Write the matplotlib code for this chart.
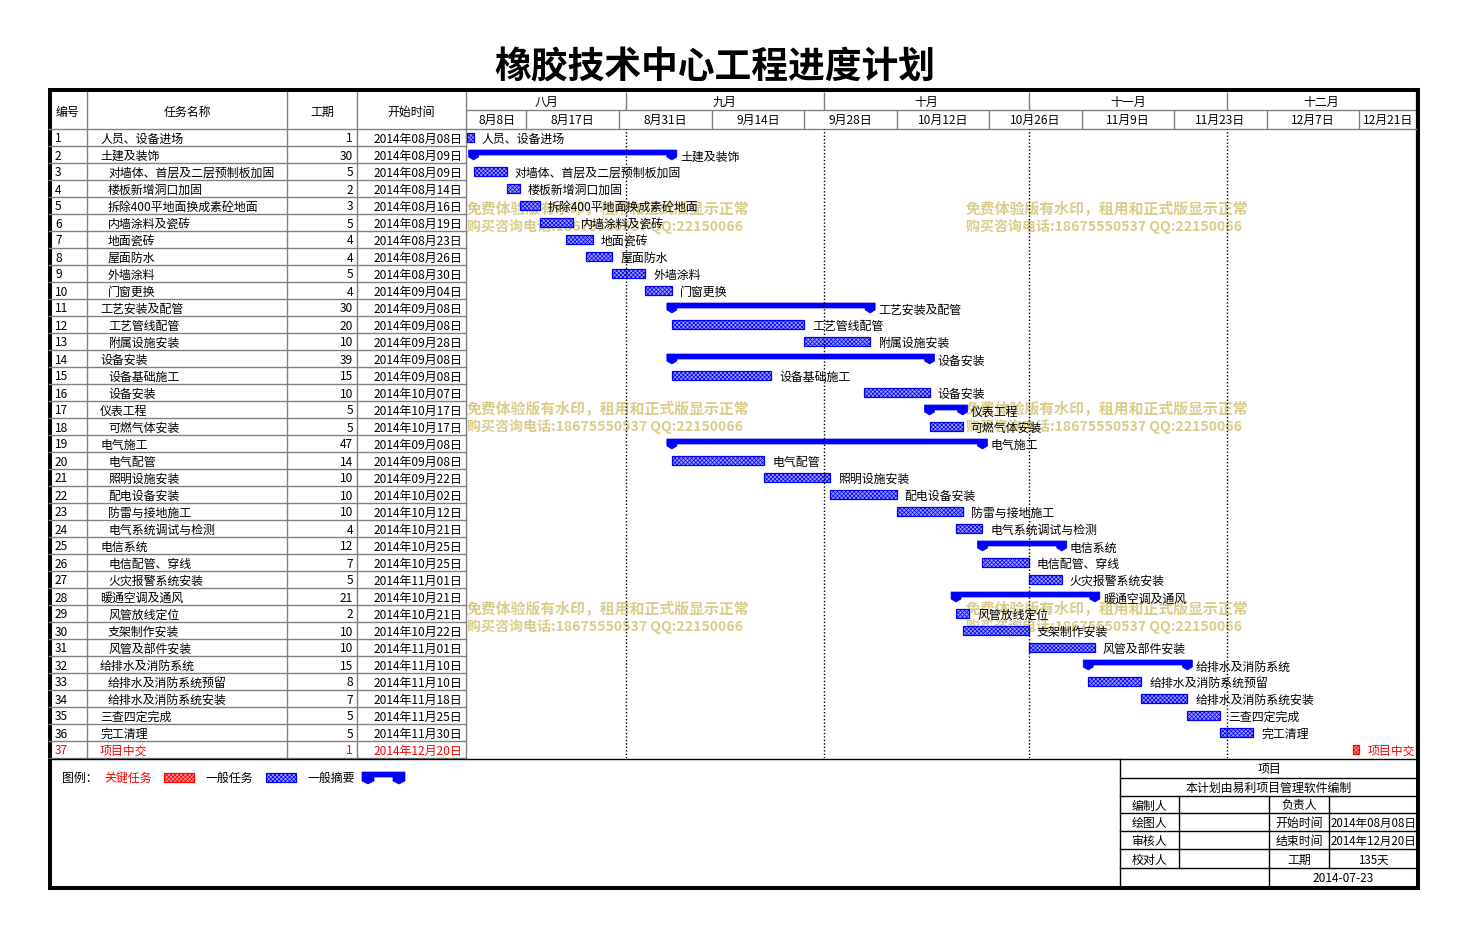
import numpy as np
import matplotlib
matplotlib.use("Agg")
import matplotlib.pyplot as plt
from matplotlib.patches import Rectangle, Polygon

plt.rcParams['font.family'] = ['Noto Sans CJK SC', 'DejaVu Sans']
plt.rcParams['hatch.linewidth'] = 0.5

# ---- data ----
title = "橡胶技术中心工程进度计划"
names = ["人员、设备进场", "土建及装饰", "对墙体、首层及二层预制板加固", "楼板新增洞口加固",
         "拆除400平地面换成素砼地面", "内墙涂料及瓷砖", "地面瓷砖", "屋面防水", "外墙涂料", "门窗更换",
         "工艺安装及配管", "工艺管线配管", "附属设施安装", "设备安装", "设备基础施工", "设备安装",
         "仪表工程", "可燃气体安装", "电气施工", "电气配管", "照明设施安装", "配电设备安装",
         "防雷与接地施工", "电气系统调试与检测", "电信系统", "电信配管、穿线", "火灾报警系统安装",
         "暖通空调及通风", "风管放线定位", "支架制作安装", "风管及部件安装", "给排水及消防系统",
         "给排水及消防系统预留", "给排水及消防系统安装", "三查四定完成", "完工清理", "项目中交"]
durations = [1, 30, 5, 2, 3, 5, 4, 4, 5, 4, 30, 20, 10, 39, 15, 10, 5, 5, 47, 14, 10, 10, 10, 4,
             12, 7, 5, 21, 2, 10, 10, 15, 8, 7, 5, 5, 1]
starts = ["2014-08-08", "2014-08-09", "2014-08-09", "2014-08-14", "2014-08-16", "2014-08-19",
          "2014-08-23", "2014-08-26", "2014-08-30", "2014-09-04", "2014-09-08", "2014-09-08",
          "2014-09-28", "2014-09-08", "2014-09-08", "2014-10-07", "2014-10-17", "2014-10-17",
          "2014-09-08", "2014-09-08", "2014-09-22", "2014-10-02", "2014-10-12", "2014-10-21",
          "2014-10-25", "2014-10-25", "2014-11-01", "2014-10-21", "2014-10-21", "2014-10-22",
          "2014-11-01", "2014-11-10", "2014-11-10", "2014-11-18", "2014-11-25", "2014-11-30",
          "2014-12-20"]
# 0 = task, 1 = summary, 2 = critical
kinds = [0, 1, 0, 0, 0, 0, 0, 0, 0, 0, 1, 0, 0, 1, 0, 0, 1, 0, 1, 0, 0, 0, 0, 0,
         1, 0, 0, 1, 0, 0, 0, 1, 0, 0, 0, 0, 2]
levels = [0, 0, 1, 1, 1, 1, 1, 1, 1, 1, 0, 1, 1, 0, 1, 1, 0, 1, 0, 1, 1, 1, 1, 1,
          0, 1, 1, 0, 1, 1, 1, 0, 1, 1, 0, 0, 0]

months = ["八月", "九月", "十月", "十一月", "十二月"]
month_starts = ["2014-08-08", "2014-09-01", "2014-10-01", "2014-11-01", "2014-12-01"]
tick_dates = ["2014-08-08", "2014-08-17", "2014-08-31", "2014-09-14", "2014-09-28", "2014-10-12",
              "2014-10-26", "2014-11-09", "2014-11-23", "2014-12-07", "2014-12-21"]
tick_labels = ["8月8日", "8月17日", "8月31日", "9月14日", "9月28日", "10月12日",
               "10月26日", "11月9日", "11月23日", "12月7日", "12月21日"]

wm_line1 = "免费体验版有水印，租用和正式版显示正常"
wm_line2 = "购买咨询电话:18675550537 QQ:22150066"

info_start = "2014年08月08日"
info_end = "2014年12月20日"
info_days = "135天"
info_date = "2014-07-23"

# ---- derived ----
t0 = np.datetime64("2014-08-08")
start_days = np.array([(np.datetime64(s) - t0).astype(int) for s in starts])
durations = np.array(durations)
month_days = np.array([(np.datetime64(s) - t0).astype(int) for s in month_starts])
tick_days = np.array([(np.datetime64(s) - t0).astype(int) for s in tick_dates])
XMAX = 143.6
n = len(names)

W, H = 1468, 938
fig = plt.figure(figsize=(W / 100, H / 100), dpi=100)
bg = fig.add_axes([0, 0, 1, 1])
bg.set_xlim(0, W)
bg.set_ylim(H, 0)
bg.axis("off")


def px_axes(x0, y0, x1, y1):
    a = fig.add_axes([x0 / W, 1 - y1 / H, (x1 - x0) / W, (y1 - y0) / H])
    a.set_facecolor("none")
    a.axis("off")
    return a


FS = 8.6
GRAY = "#808080"
RED = "#ff0000"
BLUE = "#0000ff"
DY = 1.5  # text baseline nudge in pixels

bg.text(715, 68, title, fontsize=26.5, fontweight="bold", ha="center", va="center")

# ---- table ----
top, row_top, rh = 92, 129, 17
tbl_bottom = row_top + rh * n
for x in [87, 287, 357, 466]:
    bg.plot([x, x], [top, tbl_bottom], color=GRAY, lw=1)
for i in range(n + 1):
    bg.plot([49, 466], [row_top + rh * i] * 2, color=GRAY, lw=1)
bg.plot([466, 1416], [row_top, row_top], color=GRAY, lw=1)
bg.plot([49, 1418], [tbl_bottom + 1, tbl_bottom + 1], color="black", lw=1)

hy = (top + row_top) / 2 + DY
bg.text(68, hy, "编号", fontsize=FS, ha="center", va="center")
bg.text(187, hy, "任务名称", fontsize=FS, ha="center", va="center")
bg.text(322, hy, "工期", fontsize=FS, ha="center", va="center")
bg.text(411, hy, "开始时间", fontsize=FS, ha="center", va="center")

for i in range(n):
    yc = row_top + rh * i + rh / 2 + DY
    c = RED if kinds[i] == 2 else "black"
    d = np.datetime64(starts[i]).astype(object)
    bg.text(55, yc, str(i + 1), fontsize=FS, ha="left", va="center", color=c)
    bg.text(100 + 8 * levels[i], yc, names[i], fontsize=FS, ha="left", va="center", color=c)
    bg.text(353, yc, str(durations[i]), fontsize=FS, ha="right", va="center", color=c)
    bg.text(462, yc, f"{d.year}年{d.month:02d}月{d.day:02d}日", fontsize=FS,
            ha="right", va="center", color=c)

# ---- watermarks ----
for wy in [209, 409, 609]:
    for wx in [467, 966]:
        bg.text(wx, wy, wm_line1, fontsize=10.7, fontweight="bold", color="#dacd8c",
                ha="left", va="center")
        bg.text(wx, wy + 18, wm_line2, fontsize=10.1, fontweight="bold", color="#dacd8c",
                ha="left", va="center")

# ---- timeline header ----
hx = px_axes(467, top, 1416, row_top)
hx.set_xlim(0, XMAX)
hx.set_ylim(2, 0)
hx.axhline(1, color=GRAY, lw=1)
hx.axvline(XMAX, color=GRAY, lw=1)
hx.vlines(month_days[1:], 0, 1, color=GRAY, lw=1)
hx.vlines(tick_days[1:], 1, 2, color=GRAY, lw=1)
m_edges = list(month_days) + [XMAX]
for k, m in enumerate(months):
    hx.text((m_edges[k] + m_edges[k + 1]) / 2, 0.55, m, fontsize=FS, ha="center", va="center")
t_edges = list(tick_days) + [XMAX]
for k, t in enumerate(tick_labels):
    hx.text((t_edges[k] + t_edges[k + 1]) / 2, 1.55, t, fontsize=FS, ha="center", va="center")

# ---- gantt ----
ax = px_axes(467, row_top, 1416, tbl_bottom)
ax.set_xlim(0, XMAX)
ax.set_ylim(n, 0)
ax.axvline(XMAX, color=GRAY, lw=1)
for md in month_days[1:]:
    ax.axvline(md, color="black", lw=1, ls=(0, (1, 1.5)))

px_day = 948 / XMAX
hw = 5 / px_day
dy = DY / rh
for i in range(n):
    s, e = start_days[i], start_days[i] + durations[i]
    yc = i + 0.5
    if kinds[i] == 1:
        pts = [(s - hw, i + 4 / 17), (e + hw, i + 4 / 17), (e + hw, i + 11 / 17), (e, i + 14 / 17),
               (e - hw, i + 11 / 17), (e - hw, i + 9 / 17), (s + hw, i + 9 / 17),
               (s + hw, i + 11 / 17), (s, i + 14 / 17), (s - hw, i + 11 / 17)]
        ax.add_patch(Polygon(pts, closed=True, facecolor=BLUE, edgecolor=BLUE, lw=0.5))
        ax.text(e + hw + 3 / px_day, i + 0.55 + dy, names[i], fontsize=FS, ha="left", va="center")
    else:
        c = RED if kinds[i] == 2 else BLUE
        face = "#ff9a9a" if kinds[i] == 2 else "#9a9aff"
        ax.barh(yc, durations[i], left=s, height=9 / 17, color=face, edgecolor=c,
                hatch="xxxxxxxx", lw=0.9)
        ax.text(e + 8 / px_day, yc + dy, names[i], fontsize=FS, ha="left", va="center",
                color=RED if kinds[i] == 2 else "black")

# ---- legend ----
ly = 777 + DY
bg.text(62, ly, "图例：", fontsize=FS, ha="left", va="center")
bg.text(104, ly, "关键任务", fontsize=FS, ha="left", va="center", color=RED)
bg.add_patch(Rectangle((164, 773), 30, 9, facecolor="#ff9a9a", edgecolor=RED,
                       hatch="xxxxxxxx", lw=0.9))
bg.text(206, ly, "一般任务", fontsize=FS, ha="left", va="center")
bg.add_patch(Rectangle((266, 773), 30, 9, facecolor="#9a9aff", edgecolor=BLUE,
                       hatch="xxxxxxxx", lw=0.9))
bg.text(308, ly, "一般摘要", fontsize=FS, ha="left", va="center")
bg.add_patch(Polygon([(362, 772), (405, 772), (405, 781), (399, 784), (393, 781), (393, 777),
                      (374, 777), (374, 781), (368, 784), (362, 781)],
                     closed=True, facecolor=BLUE, edgecolor=BLUE, lw=0.5))

# ---- info box ----
bx0, bx1 = 1120, 1417
rows_y = [759, 778, 796, 813, 831, 849, 868, 887]
bg.plot([bx0, bx0], [759, 887], color="black", lw=1)
for y in rows_y[1:-1]:
    bg.plot([bx0, bx1], [y, y], color="black", lw=1)
for x in [1179, 1329]:
    bg.plot([x, x], [796, 868], color="black", lw=1)
bg.plot([1269, 1269], [796, 887], color="black", lw=1)


def mid(k):
    return (rows_y[k] + rows_y[k + 1]) / 2 + DY


bg.text(1269, mid(0), "项目", fontsize=FS, ha="center", va="center")
bg.text(1269, mid(1), "本计划由易利项目管理软件编制", fontsize=FS, ha="center", va="center")
left_lbl = ["编制人", "绘图人", "审核人", "校对人"]
right_lbl = ["负责人", "开始时间", "结束时间", "工期"]
right_val = ["", info_start, info_end, info_days]
for k in range(4):
    y = mid(k + 2)
    bg.text(1149, y, left_lbl[k], fontsize=FS, ha="center", va="center")
    bg.text(1299, y, right_lbl[k], fontsize=FS, ha="center", va="center")
    bg.text(1373, y, right_val[k], fontsize=8.3, ha="center", va="center")
bg.text(1343, mid(6), info_date, fontsize=FS, ha="center", va="center")

# ---- outer border ----
bg.add_patch(Rectangle((50, 90.5), 1368, 797.5, fill=False, edgecolor="black", lw=2.9))

fig.savefig("out.png", dpi=100)
